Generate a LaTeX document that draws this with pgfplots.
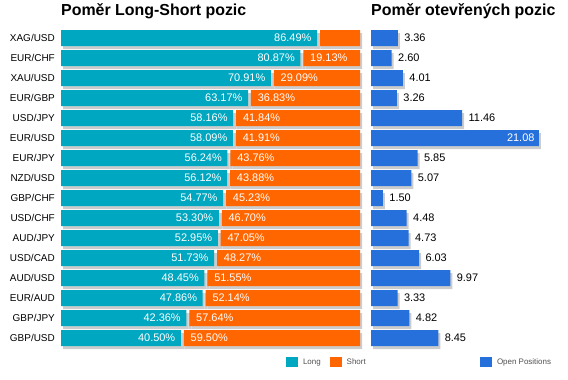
\documentclass[border=0pt]{standalone}
\usepackage{fontspec}
\setmainfont{Liberation Sans}
\usepackage{pgfplots}
\usepackage{pgfplotstable}
\pgfplotsset{compat=1.18}
\definecolor{longc}{RGB}{0,167,192}
\definecolor{shortc}{RGB}{255,102,0}
\definecolor{oic}{RGB}{38,112,219}
\definecolor{shadowc}{RGB}{204,204,204}
\definecolor{legtext}{RGB}{80,80,80}
\protected\def\slab#1{\edef\tmplab{#1}\ifdim\tmplab pt>15pt\relax\tmplab\%\fi}
\protected\def\oilab#1{\edef\tmplab{#1}\ifdim\tmplab pt>15pt\relax\llap{\color{white}\tmplab\hspace{5bp}}\else\hspace{6.3bp}\tmplab\fi}
\pgfplotstableread{
idx long ga gb short oi
0 86.49 0.5 0.5 13.51 3.36
1 80.87 0.5 0.5 19.13 2.60
2 70.91 0.5 0.5 29.09 4.01
3 63.17 0.5 0.5 36.83 3.26
4 58.16 0.5 0.5 41.84 11.46
5 58.09 0.5 0.5 41.91 21.08
6 56.24 0.5 0.5 43.76 5.85
7 56.12 0.5 0.5 43.88 5.07
8 54.77 0.5 0.5 45.23 1.50
9 53.30 0.5 0.5 46.70 4.48
10 52.95 0.5 0.5 47.05 4.73
11 51.73 0.5 0.5 48.27 6.03
12 48.45 0.5 0.5 51.55 9.97
13 47.86 0.5 0.5 52.14 3.33
14 42.36 0.5 0.5 57.64 4.82
15 40.50 0.5 0.5 59.50 8.45
}\data
\begin{document}
\begin{tikzpicture}[x=1bp,y=1bp]
\path (0,0) rectangle (568,379);
\pgfplotsset{
  base/.style={scale only axis, height=320bp, ymin=-0.5, ymax=15.5, y dir=reverse,
    axis line style={draw=none}, major tick length=0pt, xtick=\empty, ytick=\empty,
    bar width=16bp, clip=false, anchor=south west,
    title style={at={(0,1)}, anchor=base west, yshift=6.3bp, inner sep=0pt,
      font=\bfseries\fontsize{16}{19}\selectfont},
    legend style={draw=none, fill=none, inner sep=0pt, outer sep=0pt, yshift=-9bp,
      font=\fontsize{8}{9}\selectfont, text=legtext, legend columns=-1,
      nodes={inner sep=0pt},
      /tikz/every odd column/.append style={column sep=5bp},
      /tikz/every even column/.append style={column sep=9bp}},
  },
  swatch/.style={legend image code/.code={\fill[##1] (0bp,-5bp) rectangle (12bp,5bp);}},
  leftax/.style={base, width=299bp, xmin=0, xmax=101, xbar stacked, swatch},
  rightax/.style={base, width=191bp, xmin=0, xmax=24, xbar, swatch},
}
% shadows
\begin{axis}[leftax, at={(63bp,28bp)}]
\addplot[fill=shadowc, draw=none] table[x=long,y=idx]{\data};
\addplot[fill=shadowc, draw=none] table[x=ga,y=idx]{\data};
\addplot[fill=shadowc, draw=none] table[x=gb,y=idx]{\data};
\addplot[fill=shadowc, draw=none] table[x=short,y=idx]{\data};
\end{axis}
\begin{axis}[rightax, at={(373bp,28bp)}]
\addplot[fill=shadowc, draw=none] table[x=oi,y=idx]{\data};
\end{axis}
% left chart
\begin{axis}[leftax, at={(61bp,31bp)},
  title={Poměr Long-Short pozic},
  ytick={0,...,15},
  yticklabels={XAG/USD,EUR/CHF,XAU/USD,EUR/GBP,USD/JPY,EUR/USD,EUR/JPY,NZD/USD,GBP/CHF,USD/CHF,AUD/JPY,USD/CAD,AUD/USD,EUR/AUD,GBP/JPY,GBP/USD},
  yticklabel style={font=\fontsize{10}{12}\selectfont, inner sep=0pt, xshift=-6bp},
  legend style={at={(0.7525,0)}, anchor=north west},
]
\addplot[fill=longc, draw=none] table[x=long,y=idx]{\data};
\addlegendentry{Long}
\addplot[fill=none, draw=none, forget plot, point meta=explicit symbolic,
  nodes near coords={\pgfplotspointmeta\%},
  every node near coord/.append style={anchor=east, xshift=-6.2bp, inner sep=0pt, text=white, font=\fontsize{11}{13}\selectfont},
] table[x=ga,y=idx,meta=long]{\data};
\addplot[fill=none, draw=none, forget plot, point meta=explicit symbolic,
  nodes near coords={\slab{\pgfplotspointmeta}},
  every node near coord/.append style={anchor=west, xshift=7.4bp, inner sep=0pt, text=white, font=\fontsize{11}{13}\selectfont},
] table[x=gb,y=idx,meta=short]{\data};
\addplot[fill=shortc, draw=none] table[x=short,y=idx]{\data};
\addlegendentry{Short}
\end{axis}
% right chart
\begin{axis}[rightax, at={(371bp,31bp)},
  title={Poměr otevřených pozic},
  legend style={at={(0.5707,0)}, anchor=north west},
]
\addplot[fill=oic, draw=none, point meta=explicit symbolic,
  nodes near coords={\oilab{\pgfplotspointmeta}},
  every node near coord/.append style={anchor=west, inner sep=0pt, text=black, font=\fontsize{11}{13}\selectfont},
] table[x=oi,y=idx,meta=oi]{\data};
\addlegendentry{Open Positions}
\end{axis}
\end{tikzpicture}
\end{document}
